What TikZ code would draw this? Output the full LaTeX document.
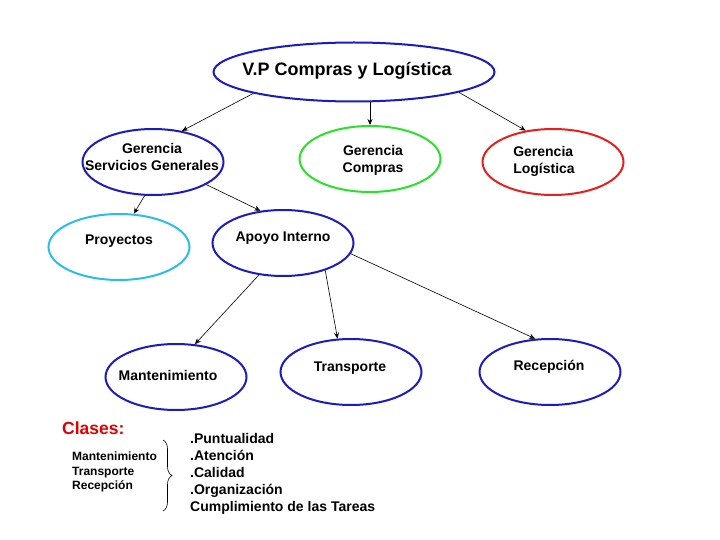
\documentclass[tikz,border=0pt]{standalone}
\usepackage{fontspec}
\setmainfont{Liberation Sans}
\usetikzlibrary{shapes.geometric,arrows.meta,decorations.pathreplacing}
\definecolor{ovalblue}{RGB}{28,28,190}
\definecolor{ovalgreen}{RGB}{40,225,40}
\definecolor{ovalred}{RGB}{230,30,30}
\definecolor{ovalcyan}{RGB}{40,190,232}
\definecolor{clasesred}{RGB}{225,0,0}
\begin{document}
\begin{tikzpicture}[x=1pt,y=-1pt,
  oval/.style={ellipse,draw=ovalblue,line width=2pt,minimum width=141pt,minimum height=66pt,inner sep=0pt},
  lbl/.style={inner sep=0pt,align=center,font=\bfseries\fontsize{14}{17}\selectfont},
  arr/.style={-{Stealth[length=6pt,width=5pt]},line width=0.6pt}]

\useasboundingbox [fill=white] (0,0) rectangle (720,540);

\node [oval,minimum width=281pt,minimum height=59pt] (vp) at (354,72) {};
\node [oval] (gsg) at (153,162) {};
\node [oval,draw=ovalgreen] (gc) at (370,159) {};
\node [oval,draw=ovalred] (gl) at (553,162) {};
\node [oval,draw=ovalcyan] (proy) at (119,247) {};
\node [oval] (apoyo) at (283,243) {};
\node [oval] (mant) at (176,377) {};
\node [oval] (trans) at (351,372) {};
\node [oval] (recep) at (550,372) {};

\node [lbl,font=\bfseries\fontsize{18}{22}\selectfont] (vp-t) at (347,71) {V.P Compras y Log\'istica};
\node [lbl] (gsg-t) at (152,157) {Gerencia\\Servicios Generales};
\node [lbl] (gc-t) at (373,160) {Gerencia\\Compras};
\node [lbl,align=left] (gl-t) at (544,161) {Gerencia\\Log\'istica};
\node [lbl] (proy-t) at (119,241) {Proyectos};
\node [lbl] (apoyo-t) at (283,238) {Apoyo Interno};
\node [lbl] (mant-t) at (168,375) {Mantenimiento};
\node [lbl] (trans-t) at (350,368) {Transporte};
\node [lbl] (recep-t) at (549,367) {Recepci\'on};

\draw [arr] (vp.192) -- (gsg.47);
\draw [arr] (vp.south -| gc.north) -- (gc.north);
\draw [arr] (vp.349) -- (gl.131);
\draw [arr] (gsg.256) -- (proy.66);
\draw [arr] (gsg.337) -- (apoyo.125);
\draw [arr] (apoyo.233) -- (mant.60);
\draw [arr] (apoyo.327) -- (trans.112);
\draw [arr] (apoyo.351) -- (recep.114);

\node [lbl,anchor=west,text=clasesred,font=\bfseries\fontsize{17.5}{20}\selectfont] (clases) at (62,428) {Clases:};
\node [lbl,anchor=west,align=left,font=\bfseries\fontsize{12}{14.5}\selectfont] (areas) at (72,472) {Mantenimiento\\Transporte\\Recepci\'on};
\coordinate (brace-top) at (163,440);
\coordinate (brace-bot) at (163,511);
\draw [decorate,decoration={brace,amplitude=9pt},line width=0.6pt] (brace-top) -- (brace-bot);
\node [lbl,anchor=west,align=left] (criterios) at (190,474) {.Puntualidad\\.Atenci\'on\\.Calidad\\.Organizaci\'on\\Cumplimiento de las Tareas};

\end{tikzpicture}
\end{document}
